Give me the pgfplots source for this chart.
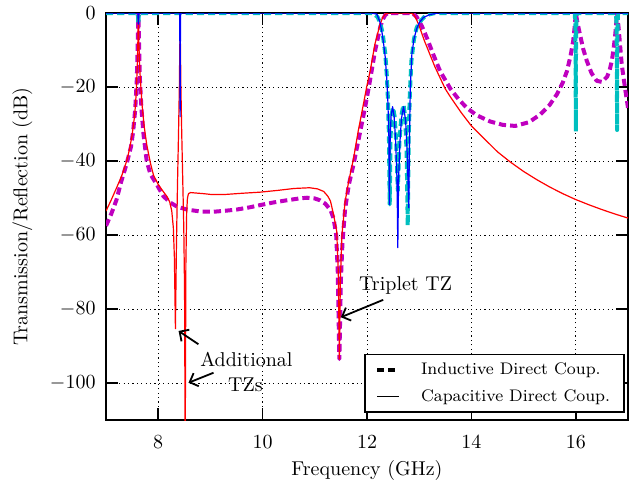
\documentclass[border=0pt]{standalone}
\usepackage{pgfplots}
\pgfplotsset{compat=1.18}
\usetikzlibrary{arrows.meta}
\definecolor{mplm}{rgb}{0.75,0,0.75}
\definecolor{mplc}{rgb}{0,0.75,0.75}
\begin{document}
\begin{tikzpicture}
\begin{axis}[
  name=ax, scale only axis, width=261pt, height=203.5pt,
  xmin=7, xmax=17, ymin=-110, ymax=0,
  xtick={8,10,...,16}, ytick={-100,-80,...,0},
  tick align=inside, major tick length=6pt,
  tick style={black, line width=0.8pt},
  axis line style={black, line width=1.1pt},
  grid=major,
  major grid style={black, line width=0.5pt, dash pattern=on 0.6pt off 1.6pt},
  xlabel={Frequency (GHz)}, ylabel={Transmission/Reflection (dB)},
  xlabel style={at={(axis description cs:0.5,-0.125)}, anchor=center},
  ylabel style={at={(axis description cs:-0.16,0.5)}, anchor=center},
  xticklabel style={yshift=-4.4pt}, yticklabel style={xshift=-1.7pt},
  every axis plot/.append style={line join=round},
  legend cell align=left,
  legend image code/.code={\draw[#1] (0pt,0pt) -- (11pt,0pt);},
  legend style={at={(rel axis cs:1,0)}, anchor=south east, xshift=-1.5pt, yshift=3.5pt,
    draw=black, line width=0.9pt, font=\fontsize{8.4}{10}\selectfont,
    inner xsep=5pt, inner ysep=2pt, row sep=2pt,
    /tikz/every odd column/.append style={column sep=8pt}},
]
% inductive S21
\addplot[mplm, line width=2pt, dash pattern=on 3.6pt off 2pt, forget plot] coordinates {
 (7.0,-57.5) (7.1,-54.3) (7.2,-50.5) (7.29,-45.6) (7.4,-40.5) (7.48,-36) (7.52,-32)
 (7.56,-26) (7.59,-18) (7.605,-10) (7.615,-3) (7.62,0) (7.625,-3) (7.635,-10) (7.65,-18)
 (7.68,-26) (7.72,-33) (7.78,-40) (7.85,-43.5) (7.98,-46.5) (8.1,-49.5) (8.23,-51.2)
 (8.36,-52.3) (8.55,-53.1) (8.8,-53.6) (9.05,-53.7) (9.3,-53.4) (9.5,-53.1) (9.75,-52.5)
 (9.95,-51.9) (10.2,-51.2) (10.46,-50.6) (10.7,-50.1) (10.85,-49.9) (11.0,-50.1) (11.1,-50.6)
 (11.2,-51.5) (11.3,-53.2) (11.36,-55.5) (11.41,-60) (11.44,-70) (11.47,-93.5) (11.5,-72)
 (11.53,-62) (11.58,-53) (11.65,-46.5) (11.74,-41) (11.87,-32) (11.97,-25) (12.06,-18)
 (12.15,-10.5) (12.25,-4) (12.3,-1.8) (12.35,-0.5) (12.4,0) (12.87,0) (12.95,-1) (13.05,-3.5)
 (13.15,-6.8) (13.27,-11.2) (13.4,-15.7) (13.6,-20.5) (13.75,-23.2) (13.91,-25.6) (14.1,-27.6)
 (14.36,-29.3) (14.6,-30.2) (14.84,-30.5) (15.1,-29.5) (15.32,-27.4) (15.5,-24.8) (15.64,-21.9)
 (15.75,-18.8) (15.83,-15.7) (15.9,-11.5) (15.95,-7.5) (15.98,-3.5) (16.0,0) (16.03,-2.5)
 (16.08,-5.8) (16.14,-9.6) (16.21,-12.9) (16.3,-16.2) (16.4,-18.3) (16.5,-18.6) (16.6,-17.2)
 (16.65,-15.3) (16.69,-12.9) (16.72,-10) (16.75,-6.6) (16.77,-3.5) (16.79,0) (16.82,-4)
 (16.85,-9) (16.88,-13.9) (16.94,-20) (17.0,-25.6)
};
% inductive S11
\addplot[mplc, line width=2pt, dash pattern=on 3.6pt off 2pt, forget plot] coordinates {
 (7,0) (7.61,0) (7.62,-3) (7.63,0) (12.1,0) (12.2,-1) (12.25,-2.5) (12.3,-5.5) (12.35,-11)
 (12.38,-17) (12.4,-23) (12.42,-33) (12.435,-51.7) (12.45,-34) (12.47,-27.5) (12.5,-25.5)
 (12.53,-28) (12.56,-35) (12.59,-48) (12.62,-35) (12.66,-27.5) (12.7,-24.8) (12.73,-28)
 (12.76,-38) (12.78,-57.4) (12.8,-33) (12.82,-22) (12.85,-13) (12.9,-7) (12.95,-4) (13.0,-2.5)
 (13.1,-1) (13.2,-0.3) (13.3,0) (15.98,0) (15.99,-3) (15.997,-12) (16.0,-32) (16.003,-12)
 (16.01,-3) (16.02,0) (16.77,0) (16.78,-3) (16.787,-12) (16.79,-31.6) (16.793,-12) (16.8,-3)
 (16.81,0) (17,0)
};
% capacitive S21
\addplot[red, line width=0.6pt, forget plot] coordinates {
 (7.0,-53.5) (7.1,-50.5) (7.2,-47.3) (7.3,-44) (7.4,-39.8) (7.45,-36.8) (7.5,-33) (7.55,-27.5)
 (7.58,-21.5) (7.6,-14) (7.61,-8) (7.615,-4) (7.62,0) (7.625,-4) (7.63,-8.5) (7.65,-16)
 (7.69,-24.7) (7.73,-30.5) (7.78,-35.5) (7.85,-40.5) (7.91,-43.8) (8.0,-46.3) (8.1,-48.3)
 (8.17,-49.6) (8.22,-51) (8.26,-53.5) (8.29,-58) (8.31,-66) (8.33,-85.3) (8.35,-62) (8.37,-46)
 (8.39,-32) (8.405,-20) (8.415,-8) (8.42,0) (8.425,-8) (8.435,-20) (8.45,-32) (8.47,-45)
 (8.49,-58) (8.505,-75) (8.517,-120) (8.53,-68) (8.545,-54) (8.56,-50) (8.58,-48.8)
 (8.62,-48.5) (8.7,-48.6) (8.87,-48.8) (9.0,-49) (9.3,-49) (9.6,-48.7) (9.95,-48.4)
 (10.3,-47.9) (10.6,-47.4) (10.9,-47.2) (11.05,-47.5) (11.17,-48.2) (11.25,-49.5) (11.3,-50.8)
 (11.36,-54.5) (11.42,-59) (11.45,-70) (11.47,-93.5) (11.49,-72) (11.52,-60) (11.58,-51)
 (11.65,-45.4) (11.74,-39.5) (11.83,-32) (11.93,-24.7) (12.0,-19.5) (12.06,-15.7) (12.15,-8.5)
 (12.25,-3) (12.3,-1.2) (12.35,-0.3) (12.4,0) (12.85,0) (12.9,-0.5) (12.95,-1.8) (13.0,-3.5)
 (13.1,-7.5) (13.2,-11) (13.3,-14.5) (13.4,-17.5) (13.5,-20.5) (13.6,-22.7) (13.8,-26.8)
 (14.0,-30.5) (14.25,-34) (14.5,-37.5) (14.75,-40.3) (15.0,-42.8) (15.25,-45) (15.5,-47)
 (15.75,-48.8) (16.0,-50.4) (16.25,-51.8) (16.5,-53.1) (16.75,-54.3) (17.0,-55.4)
};
% capacitive S11
\addplot[blue, line width=0.6pt, forget plot] coordinates {
 (7,0) (7.61,0) (7.62,-3) (7.63,0) (8.41,0) (8.415,-8) (8.42,-28) (8.425,-8) (8.43,0)
 (12.1,0) (12.19,-0.3) (12.25,-2.5) (12.29,-5.5) (12.32,-8.5) (12.35,-12) (12.38,-18)
 (12.4,-24) (12.42,-34) (12.43,-51.7) (12.44,-36) (12.46,-28) (12.49,-25.3) (12.52,-28)
 (12.55,-35) (12.575,-45) (12.59,-63.4) (12.605,-45) (12.63,-35) (12.66,-28.5) (12.7,-25.3)
 (12.74,-29) (12.77,-38) (12.8,-52.6) (12.815,-32) (12.83,-20) (12.86,-11) (12.9,-7)
 (12.95,-4.3) (13.0,-2.6) (13.08,-1.2) (13.2,-0.4) (13.35,0) (17,0)
};
\addlegendimage{black, line width=2pt, dash pattern=on 3.6pt off 2pt}
\addlegendentry{Inductive Direct Coup.}
\addlegendimage{black, line width=0.6pt}
\addlegendentry{Capacitive Direct Coup.}

\draw[-{Straight Barb[length=3.5pt,width=7pt]}, line width=0.9pt] (axis cs:12.31,-77.5) -- (axis cs:11.5,-82.2);
\node[anchor=base] at (axis cs:12.74,-75.1) {Triplet TZ};
\draw[-{Straight Barb[length=3.5pt,width=7pt]}, line width=0.9pt] (axis cs:8.77,-89.5) -- (axis cs:8.39,-85.9);
\draw[-{Straight Barb[length=3.5pt,width=7pt]}, line width=0.9pt] (axis cs:9.06,-97.2) -- (axis cs:8.58,-99.9);
\node[anchor=base] at (axis cs:9.69,-95.4) {Additional};
\node[anchor=base] at (axis cs:9.67,-102.2) {TZs};
\end{axis}
\path ([shift={(-53pt,-33.5pt)}]ax.south west) rectangle ([shift={(6pt,4.3pt)}]ax.north east);
\end{tikzpicture}
\end{document}
